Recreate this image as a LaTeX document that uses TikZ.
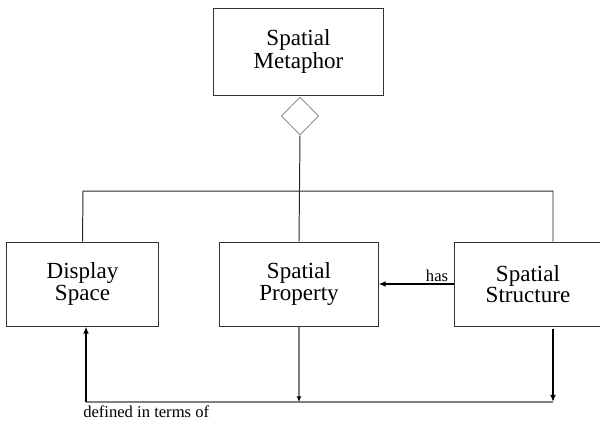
\documentclass[tikz,border=0pt]{standalone}
\usepackage{fontspec}
\setmainfont{Liberation Serif}
\usetikzlibrary{arrows.meta,shapes.geometric,positioning}

\tikzset{
  box/.style={draw=black!80, line width=0.7pt, inner sep=0pt, align=center,
    minimum height=2.1cm, font=\fontsize{16.4}{14.2}\selectfont},
  agg/.style={diamond, draw=black!45, line width=0.6pt, inner sep=0pt,
    minimum width=0.93cm, minimum height=0.95cm},
  link/.style={draw=black!85, line width=0.7pt},
  heavy/.style={draw=black, line width=1.3pt, -{Latex[length=5pt,width=4pt]}},
  faint/.style={draw=black!50, line width=1pt},
  lbl/.style={font=\fontsize{11.8}{13}\selectfont, inner sep=1pt}
}

\begin{document}
\begin{tikzpicture}[x=0.025cm,y=-0.025cm]
        \useasboundingbox (0,0) rectangle (600,424);
        % boxes
        \node[box, minimum width=4.225cm, minimum height=2.175cm] (meta) at (298.5,51.5) {Spatial\\Metaphor};
        \node[box, minimum width=3.775cm] (disp) at (82.5,284) {Display\\Space};
        \node[box, minimum width=3.95cm] (prop) at (299,284) {Spatial\\Property};
        \node[box, minimum width=3.65cm] (struct) at (528,284) {Spatial\\Structure};
        \node[agg] (dia) at (300,116) {};
        % corner points
        \coordinate (bl) at (83,191);
        \coordinate (br) at (553,191);
        \coordinate (db) at (86,402);
        \coordinate (sb) at (553,402);
        % aggregation
        \draw[link] (dia.south) -- (prop.north);
        \draw[link] (disp.north) -- (bl) -- (br) -- (br |- struct.north);
        % has
        \draw[heavy] (struct.west) -- node[lbl, pos=0.23, above] (haslbl) {has} (prop.east);
        % defined in terms of
        \draw[faint] (db) -- (sb);
        \draw[faint, -{Latex[length=4pt,width=3.5pt,black]}] (prop.south) -- (prop.south |- sb);
        \draw[heavy] ([yshift=-2pt]struct.south -| sb) -- (sb);
        \draw[heavy] (db) -- (db |- disp.south);
        \node[lbl, anchor=north west, inner sep=0pt] (deflbl) at (83,406) {defined in terms of};
\end{tikzpicture}
\end{document}
